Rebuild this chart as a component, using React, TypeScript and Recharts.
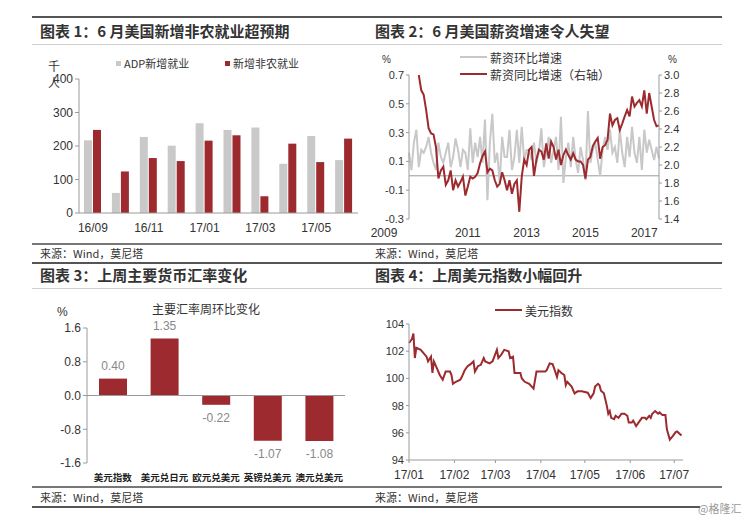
import React from "react";
import {
  Bar,
  BarChart,
  LabelList,
  Line,
  LineChart,
  ReferenceLine,
  XAxis,
  YAxis,
} from "recharts";

const RED = "#9c2a2e";
const BAR_GRAY = "#c9c9c9";
const LINE_GRAY = "#c8c8c8";
const AXIS = "#9a9a9a";
const TEXT = "#333";
const FONT = '"Liberation Sans", Arial, "Noto Sans CJK SC", sans-serif';
const CJK = '"Noto Sans CJK SC", "Noto Sans", sans-serif';

// chart 1: jobs
const jobMonths = ["16/09", "16/10", "16/11", "16/12", "17/01", "17/02", "17/03", "17/04", "17/05", "17/06"];
const adpJobs = [217, 60, 227, 201, 268, 248, 255, 147, 230, 158];
const nonfarmJobs = [248, 124, 164, 155, 216, 232, 50, 207, 152, 222];
const jobTicks = [0, 100, 200, 300, 400];

// chart 2: wages, monthly from 2009/01
const wageYearTicks = [0, 24, 48, 72, 96];
const wageYearLabels = ["2009", "2011", "2013", "2015", "2017"];
const wageMoM = [
  0.16, 0.04, 0.23, 0.32, 0.06, 0.18, 0.16, 0.2, 0.27, 0.16,
  0.09, 0.04, 0.23, 0.13, 0.09, 0.16, 0.23, 0.06, 0.13, 0.26,
  0.18, 0.06, 0.18, 0.16, 0.04, 0.33, 0.09, 0.23, 0.13, 0.27,
  0.09, 0.39, -0.17, 0.23, 0.43, 0.09, 0.16, -0.05, 0.27, 0.13,
  0.13, 0.32, 0.04, 0.13, 0.32, 0.09, 0.34, 0.11, 0.18, 0.18,
  0.11, 0.23, 0.09, 0.16, 0.33, 0.06, 0.16, 0.27, 0.09, 0.18,
  0.27, 0.04, 0.41, -0.05, 0.13, 0.23, 0.06, 0.27, 0.11, 0.02,
  0.2, 0.11, -0.03, 0.45, 0.09, 0.18, 0.23, 0.11, 0.0, 0.18,
  0.27, 0.18, 0.32, 0.16, 0.2, 0.09, 0.32, 0.16, 0.06, 0.27,
  0.13, 0.34, 0.16, 0.09, 0.27, 0.04, 0.32, 0.16, 0.25, 0.18,
  0.11, 0.2, 0.12,
];
const wageYoY = [
  null, null, null, null,
  3.0, 2.83, 2.78, 2.61, 2.41, 2.35, 2.34, 2.2, 1.85, 1.94,
  1.98, 1.78, 1.83, 1.94, 1.72, 1.83, 1.76, 1.81, 1.87, 1.66,
  1.76, 1.87, 1.85, 1.87, 1.91, 2.02, 2.1, 2.15, 1.92, 1.96,
  1.94, 1.83, 1.76, 1.79, 1.92, 1.83, 1.72, 1.83, 1.68, 1.79,
  1.83, 1.48, 1.87, 2.06, 2.0, 2.17, 2.2, 1.88, 2.06, 2.17,
  2.15, 2.06, 2.24, 2.07, 2.26, 2.2, 2.06, 2.17, 2.0, 2.11,
  2.17, 2.11, 2.06, 2.13, 2.06, 2.04, 2.04, 2.0, 1.85, 2.06,
  2.09, 2.21, 2.26, 2.3, 2.07, 2.2, 2.22, 2.28, 2.57, 2.44,
  2.5, 2.52, 2.39, 2.46, 2.54, 2.61, 2.54, 2.76, 2.65, 2.69,
  2.72, 2.65, 2.83, 2.57, 2.8, 2.65, 2.5, 2.43, 2.44,
];
const momTicks = [-0.3, -0.2, -0.1, 0, 0.1, 0.2, 0.3, 0.4, 0.5, 0.6, 0.7];
const yoyTicks = [1.4, 1.6, 1.8, 2.0, 2.2, 2.4, 2.6, 2.8, 3.0];

// chart 3: fx weekly change
const fxPairs = ["美元指数", "美元兑日元", "欧元兑美元", "英镑兑美元", "澳元兑美元"];
const fxChange = [0.4, 1.35, -0.22, -1.07, -1.08];
const fxTicks = [-1.6, -0.8, 0, 0.8, 1.6];

// chart 4: dollar index, day of 2017
const dxyDays = [
  0, 2, 3, 4, 5, 8, 12, 13, 15, 16, 17, 19, 21, 23, 25, 28, 29, 30, 32, 35,
  36, 38, 40, 42, 44, 45, 47, 49, 51, 52, 55, 57, 60, 61, 63, 65, 68, 69, 71, 72,
  76, 77, 79, 82, 85, 87, 90, 93, 94, 96, 98, 99, 101, 102, 104, 106, 107, 108, 111, 113,
  115, 118, 120, 122, 124, 126, 127, 129, 130, 131, 133, 135, 136, 137, 138, 140, 141, 143, 145, 147,
  149, 150, 152, 153, 155, 157, 159, 161, 162, 164, 165, 166, 168, 170, 171, 173, 175, 176, 178, 180,
  182, 183, 185, 186,
];
const dxyValues = [
  102.6, 102.9, 103.3, 101.5, 102.25, 102.1, 101.6, 101.25, 101.6, 100.4, 101.25, 100.75, 100.25, 99.9, 100.5, 100.5, 100.25, 99.6, 99.75, 99.9,
  100.1, 100.6, 100.9, 101.05, 101.25, 100.5, 100.9, 101.0, 101.5, 101.25, 101.1, 101.25, 102.1, 101.5, 101.75, 102.1, 102.0, 101.5, 101.6, 100.4,
  100.4, 100.0, 99.75, 99.6, 99.25, 100.5, 100.5, 100.5, 100.6, 101.1, 101.05, 100.75, 100.1, 100.6, 100.4, 100.25, 99.5, 99.75, 99.4, 98.9,
  99.05, 99.05, 99.0, 98.95, 98.55, 98.9, 99.4, 99.6, 99.5, 99.1, 98.9, 98.0, 97.4, 97.6, 97.1, 97.0, 97.25, 97.1, 97.4, 97.4,
  97.25, 96.75, 96.75, 96.9, 96.5, 96.8, 97.1, 97.1, 97.0, 97.25, 97.1, 97.4, 97.6, 97.4, 97.5, 97.3, 97.3, 96.25, 95.5, 95.75,
  96.05, 96.1, 95.9, 95.8,
];
const dxyMonthTicks = [0, 31, 59, 90, 120, 151, 181];
const dxyMonthLabels = ["17/01", "17/02", "17/03", "17/04", "17/05", "17/06", "17/07"];
const dxyTicks = [94, 96, 98, 100, 102, 104];

const jobData = jobMonths.map((m, i) => ({ month: m, adp: adpJobs[i], nfp: nonfarmJobs[i] }));
const wageData = wageMoM.map((v, i) => ({ i, mom: v, yoy: wageYoY[i] }));
const fxData = fxPairs.map((p, i) => ({ pair: p, value: fxChange[i] }));
const dxyData = dxyDays.map((d, i) => ({ day: d, value: dxyValues[i] }));

function Hr({ y, x1 = 32, x2 = 722, w = 1, c = "#ccc" }: any) {
  return <div style={{ position: "absolute", left: x1, top: y - w / 2, width: x2 - x1, height: w, background: c }} />;
}

function Txt({ x, y, size = 12, bold = false, color = TEXT, font = CJK, children }: any) {
  return (
    <div
      style={{
        position: "absolute",
        left: x,
        top: y,
        transform: "translateY(-50%)",
        fontSize: size,
        fontWeight: bold ? 700 : 400,
        color,
        fontFamily: font,
        lineHeight: 1,
        whiteSpace: "nowrap",
      }}
    >
      {children}
    </div>
  );
}

function LegendLine({ x, y, color, label }: any) {
  return (
    <div style={{ position: "absolute", left: x, top: y - 7, display: "flex", alignItems: "center", height: 14 }}>
      <span style={{ width: 27, height: 2.5, background: color, marginRight: 3 }} />
      <span style={{ fontSize: 12, color: TEXT, fontFamily: CJK }}>{label}</span>
    </div>
  );
}

function LegendBox({ x, y, color, label }: any) {
  return (
    <div style={{ position: "absolute", left: x, top: y - 7, display: "flex", alignItems: "center", height: 14 }}>
      <span style={{ width: 5, height: 5, background: color, marginRight: 3 }} />
      <span style={{ fontSize: 11, color: TEXT, fontFamily: CJK }}>{label}</span>
    </div>
  );
}

function YearTick({ x, y, payload }: any) {
  const idx = wageYearTicks.indexOf(payload.value);
  const dx = idx === 0 ? -25 : 0;
  return (
    <text x={x + dx} y={y + 10} textAnchor="middle" fontSize={12} fill={TEXT}>
      {wageYearLabels[idx]}
    </text>
  );
}

function FxLabel({ x, y, width, height, value }: any) {
  const top = Math.min(y, y + height);
  const bottom = Math.max(y, y + height);
  const ty = value >= 0 ? top - 9 : bottom + 17;
  return (
    <text x={x + width / 2} y={ty} textAnchor="middle" fontSize={12} fill="#888">
      {value.toFixed(2)}
    </text>
  );
}

const tickStyle = { fontSize: 12, fill: TEXT };
const smallTick = { fontSize: 11, fill: TEXT };

export default function App() {
  return (
    <div
      style={{
        position: "absolute",
        left: 0,
        top: 0,
        width: 745,
        height: 520,
        background: "#fff",
        fontFamily: FONT,
        overflow: "hidden",
      }}
    >
      {/* frame lines */}
      <Hr y={17} w={2} c="#555" />
      <Hr y={44} w={1} c="#cfcfcf" />
      <Hr y={244} w={1.5} c="#777" />
      <Hr y={263} w={2} c="#555" />
      <Hr y={288} w={1} c="#cfcfcf" />
      <Hr y={487} w={1.5} c="#777" />
      <Hr y={507} w={2} c="#555" x2={700} />

      <Txt x={40} y={30} size={15} bold>图表 1：6 月美国新增非农就业超预期</Txt>
      <Txt x={375} y={30} size={15} bold>图表 2：6 月美国薪资增速令人失望</Txt>
      <Txt x={40} y={274} size={15} bold>图表 3：上周主要货币汇率变化</Txt>
      <Txt x={375} y={274} size={15} bold>图表 4：上周美元指数小幅回升</Txt>
      <Txt x={40} y={253} size={11}>来源：Wind，莫尼塔</Txt>
      <Txt x={375} y={253} size={11}>来源：Wind，莫尼塔</Txt>
      <Txt x={40} y={497} size={11}>来源：Wind，莫尼塔</Txt>
      <Txt x={375} y={497} size={11}>来源：Wind，莫尼塔</Txt>
      <Txt x={698} y={508} size={11} color="#999">@格隆汇</Txt>

      {/* chart 1 */}
      <div style={{ position: "absolute", left: 30, top: 40 }}>
        <BarChart width={335} height={200} data={jobData} margin={{ top: 39, right: 7, bottom: 5, left: 9 }} barGap={1}>
          <XAxis dataKey="month" interval={1} tickLine={false} axisLine={{ stroke: AXIS }} tick={{ ...tickStyle, dy: 2 }} height={22} />
          <YAxis
            domain={[0, 400]}
            ticks={jobTicks}
            width={40}
            axisLine={{ stroke: AXIS }}
            tickLine={{ stroke: AXIS }}
            tickSize={4}
            tick={tickStyle}
          />
          <Bar dataKey="adp" fill={BAR_GRAY} barSize={8} isAnimationActive={false} />
          <Bar dataKey="nfp" fill={RED} barSize={8} isAnimationActive={false} />
        </BarChart>
      </div>
      <Txt x={48} y={66} size={12}>千</Txt>
      <Txt x={48} y={83} size={12}>人</Txt>
      <LegendBox x={116} y={63} color={BAR_GRAY} label="ADP新增就业" />
      <LegendBox x={225} y={63} color={RED} label="新增非农就业" />

      {/* chart 2 */}
      <div style={{ position: "absolute", left: 370, top: 45 }}>
        <LineChart width={320} height={195} data={wageData} margin={{ top: 30, right: 3, bottom: 3, left: 4 }}>
          <XAxis
            dataKey="i"
            type="number"
            domain={[0, 102]}
            ticks={wageYearTicks}
            tick={<YearTick />}
            axisLine={false}
            tickLine={false}
            height={18}
          />
          <YAxis
            yAxisId="l"
            domain={[-0.3, 0.7]}
            ticks={momTicks}
            tickFormatter={(v: number) => v.toFixed(1)}
            width={35}
            axisLine={{ stroke: AXIS }}
            tickLine={{ stroke: AXIS }}
            tickSize={3}
            tick={smallTick}
          />
          <YAxis
            yAxisId="r"
            orientation="right"
            domain={[1.4, 3.0]}
            ticks={yoyTicks}
            allowDataOverflow
            tickFormatter={(v: number) => v.toFixed(1)}
            width={28}
            axisLine={{ stroke: AXIS }}
            tickLine={{ stroke: AXIS }}
            tickSize={3}
            tick={smallTick}
          />
          <ReferenceLine yAxisId="l" y={0} stroke={AXIS} />
          <Line yAxisId="l" dataKey="mom" stroke={LINE_GRAY} strokeWidth={2} dot={false} isAnimationActive={false} />
          <Line yAxisId="r" dataKey="yoy" stroke={RED} strokeWidth={2} dot={false} isAnimationActive={false} />
        </LineChart>
      </div>
      <Txt x={382} y={60} size={10} font={FONT}>%</Txt>
      <Txt x={668} y={60} size={10} font={FONT}>%</Txt>
      <LegendLine x={460} y={57} color={LINE_GRAY} label="薪资环比增速" />
      <LegendLine x={460} y={74} color={RED} label="薪资同比增速（右轴）" />

      {/* chart 3 */}
      <div style={{ position: "absolute", left: 30, top: 290 }}>
        <BarChart width={325} height={200} data={fxData} margin={{ top: 38, right: 10, bottom: 5, left: 19 }}>
          <XAxis
            dataKey="pair"
            tickLine={false}
            axisLine={false}
            interval={0}
            tick={{ fontSize: 9.5, fill: "#222", fontFamily: CJK, fontWeight: 700, dy: 3 }}
            height={22}
          />
          <YAxis
            domain={[-1.6, 1.6]}
            ticks={fxTicks}
            tickFormatter={(v: number) => v.toFixed(1)}
            width={38}
            axisLine={{ stroke: AXIS }}
            tickLine={{ stroke: AXIS }}
            tickSize={4}
            tick={tickStyle}
          />
          <ReferenceLine y={0} stroke={AXIS} />
          <Bar dataKey="value" fill={RED} barSize={28} isAnimationActive={false}>
            <LabelList dataKey="value" content={<FxLabel />} />
          </Bar>
        </BarChart>
      </div>
      <Txt x={57} y={312} size={12} font={FONT}>%</Txt>
      <Txt x={152} y={309} size={12}>主要汇率周环比变化</Txt>

      {/* chart 4 */}
      <div style={{ position: "absolute", left: 370, top: 290 }}>
        <LineChart width={325} height={200} data={dxyData} margin={{ top: 34, right: 12, bottom: 6, left: 7 }}>
          <XAxis
            dataKey="day"
            type="number"
            domain={[0, 187]}
            ticks={dxyMonthTicks}
            tickFormatter={(v: number) => dxyMonthLabels[dxyMonthTicks.indexOf(v)]}
            axisLine={{ stroke: AXIS }}
            tickLine={{ stroke: AXIS }}
            tickSize={3}
            tick={{ ...tickStyle, dy: 5 }}
            height={24}
          />
          <YAxis
            domain={[94, 104]}
            ticks={dxyTicks}
            width={32}
            axisLine={{ stroke: AXIS }}
            tickLine={{ stroke: AXIS }}
            tickSize={3}
            tick={smallTick}
          />
          <Line dataKey="value" stroke={RED} strokeWidth={2} dot={false} isAnimationActive={false} />
        </LineChart>
      </div>
      <LegendLine x={495} y={310} color={RED} label="美元指数" />
    </div>
  );
}
